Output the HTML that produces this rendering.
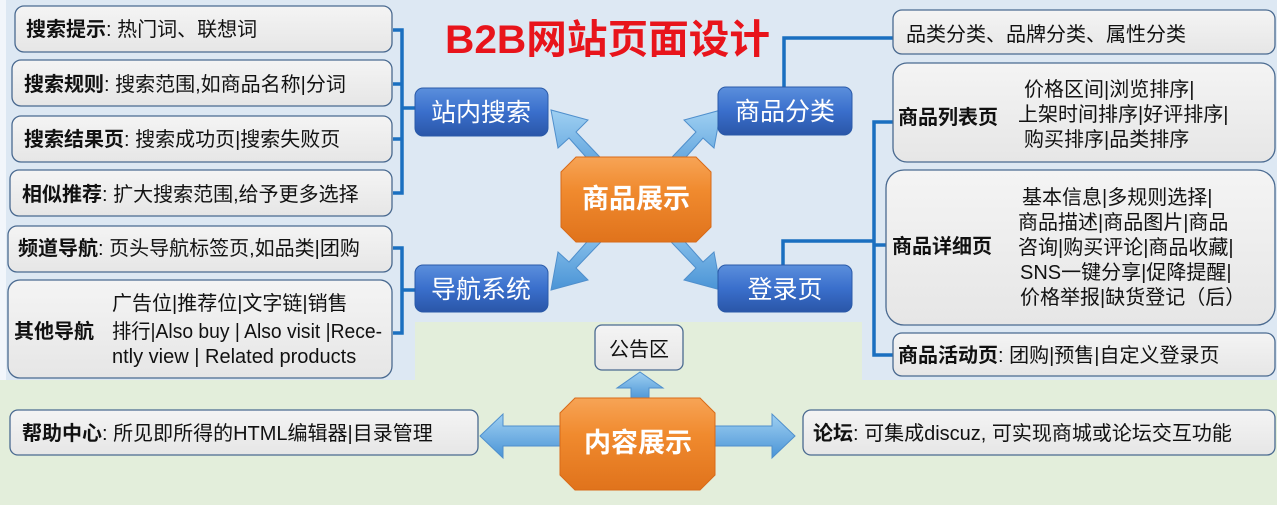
<!DOCTYPE html>
<html><head><meta charset="utf-8"><style>
body{margin:0;width:1277px;height:500px;overflow:hidden;background:#e3eedb;}
svg text{font-family:"Liberation Sans","Noto Sans CJK SC",sans-serif;}
</style></head><body>
<svg width="1277" height="500" viewBox="0 0 1277 500" xmlns="http://www.w3.org/2000/svg">
<defs>
<linearGradient id="bl" x1="0" y1="0" x2="0" y2="1"><stop offset="0" stop-color="#5b8fdc"/><stop offset="0.5" stop-color="#3a6fcc"/><stop offset="1" stop-color="#2a56a8"/></linearGradient>
<linearGradient id="or" x1="0" y1="0" x2="0" y2="1"><stop offset="0" stop-color="#f7a456"/><stop offset="0.4" stop-color="#f08a2e"/><stop offset="1" stop-color="#e0731c"/></linearGradient>
<linearGradient id="bx" x1="0" y1="0" x2="0" y2="1"><stop offset="0" stop-color="#f4f4f4"/><stop offset="1" stop-color="#e6e6e6"/></linearGradient>
<linearGradient id="ar" x1="0" y1="0" x2="0" y2="1"><stop offset="0" stop-color="#9fd0f2"/><stop offset="1" stop-color="#4a94d6"/></linearGradient>
</defs>
<rect width="1277" height="500" fill="#e3eedb"/>
<path d="M0 0H1277V380H862V322H415V380H0Z" fill="#dde8f3"/>
<rect x="0" y="0" width="6" height="380" fill="#f2f6fb"/>

<text x="445" y="53" font-size="40" font-weight="bold" fill="#e8141b" textLength="325" lengthAdjust="spacingAndGlyphs">B2B网站页面设计</text>

<g stroke="#1a6fc0" stroke-width="3.5" fill="none">
<path d="M393 30H402V193H393M393 84H402M393 139H402M402 108H415"/>
<path d="M393 248H402V333H393M402 290H415"/>
<path d="M784 88V38H893"/>
<path d="M893 122H874V355H893M874 241H783V265M874 245H886"/>
</g>
<g stroke="#1ba09a" stroke-width="3" fill="none">
<path d="M112 300H104V360H112"/>
<path d="M1030 82H1022V146H1030"/>
<path d="M1028 196H1002V300H1028"/>
</g>

<g fill="url(#bx)" stroke="#4a6a90" stroke-width="1.3">
<rect x="15" y="6" width="377" height="46" rx="9"/>
<rect x="12" y="60" width="380" height="46" rx="9"/>
<rect x="12" y="116" width="380" height="46" rx="9"/>
<rect x="10" y="170" width="382" height="46" rx="9"/>
<rect x="8" y="226" width="384" height="46" rx="9"/>
<rect x="8" y="280" width="384" height="98" rx="12"/>
<rect x="893" y="10" width="382" height="44" rx="9"/>
<rect x="893" y="63" width="382" height="99" rx="14"/>
<rect x="886" y="170" width="389" height="155" rx="18"/>
<rect x="893" y="333" width="382" height="43" rx="9"/>
<rect x="595" y="325" width="88" height="45" rx="7"/>
<rect x="10" y="410" width="468" height="45" rx="8"/>
<rect x="803" y="410" width="472" height="45" rx="8"/>
</g>
<g font-size="20" fill="#111">
<text x="26" y="36"><tspan font-weight="bold">搜索提示</tspan>: 热门词、联想词</text>
<text x="24" y="91"><tspan font-weight="bold">搜索规则</tspan>: 搜索范围,如商品名称|分词</text>
<text x="24" y="146"><tspan font-weight="bold">搜索结果页</tspan>: 搜索成功页|搜索失败页</text>
<text x="22" y="201"><tspan font-weight="bold">相似推荐</tspan>: 扩大搜索范围,给予更多选择</text>
<text x="18" y="255"><tspan font-weight="bold">频道导航</tspan>: 页头导航标签页,如品类|团购</text>
<text x="14" y="338" font-weight="bold">其他导航</text>
<text x="112" y="310">广告位|推荐位|文字链|销售</text>
<text x="112" y="338" textLength="270" lengthAdjust="spacingAndGlyphs">排行|Also buy | Also visit |Rece-</text>
<text x="112" y="363">ntly view | Related products</text>
<text x="906" y="41">品类分类、品牌分类、属性分类</text>
<text x="898" y="124" font-weight="bold">商品列表页</text>
<text x="1024" y="96">价格区间|浏览排序|</text>
<text x="1018" y="121">上架时间排序|好评排序|</text>
<text x="1024" y="146">购买排序|品类排序</text>
<text x="892" y="253" font-weight="bold">商品详细页</text>
<text x="1022" y="204">基本信息|多规则选择|</text>
<text x="1018" y="229">商品描述|商品图片|商品</text>
<text x="1018" y="254">咨询|购买评论|商品收藏|</text>
<text x="1020" y="279">SNS一键分享|促降提醒|</text>
<text x="1020" y="304">价格举报|缺货登记（后）</text>
<text x="898" y="362"><tspan font-weight="bold">商品活动页</tspan>: 团购|预售|自定义登录页</text>
<text x="609" y="356">公告区</text>
<text x="22" y="440"><tspan font-weight="bold">帮助中心</tspan>: 所见即所得的HTML编辑器|目录管理</text>
<text x="813" y="440"><tspan font-weight="bold">论坛</tspan>: 可集成discuz, 可实现商城或论坛交互功能</text>
</g>

<g fill="url(#ar)" stroke="#4f8fcc" stroke-width="1">
<path d="M618 176L576 132L588 120L551 110L558 148L569 138L610 184Z"/>
<path d="M654 176L696 132L684 120L721 110L714 148L703 138L662 184Z"/>
<path d="M618 224L576 268L588 280L551 290L558 252L569 262L610 216Z"/>
<path d="M654 224L696 268L684 280L721 290L714 252L703 262L662 216Z"/>
<path d="M631 400V388H617L640 372L663 388H649V400Z"/>
<path d="M560 426H503V414L480 436L503 458V446H560Z"/>
<path d="M715 426H772V414L795 436L772 458V446H715Z"/>
</g>

<g fill="url(#bl)" stroke="#2a5aa8">
<rect x="415" y="88" width="133" height="48" rx="8"/>
<rect x="718" y="87" width="134" height="48" rx="8"/>
<rect x="415" y="265" width="133" height="47" rx="8"/>
<rect x="718" y="265" width="134" height="47" rx="8"/>
</g>
<g font-size="25" fill="#fff" text-anchor="middle">
<text x="481" y="121">站内搜索</text>
<text x="785" y="120">商品分类</text>
<text x="481" y="298">导航系统</text>
<text x="785" y="298">登录页</text>
</g>
<path d="M576 157H696L711 172V227L696 242H576L561 227V172Z" fill="url(#or)" stroke="#d86a18"/>
<path d="M575 398H700L715 413V475L700 490H575L560 475V413Z" fill="url(#or)" stroke="#d86a18"/>
<g font-size="27" font-weight="bold" fill="#fff" text-anchor="middle">
<text x="636" y="208">商品展示</text>
<text x="638" y="452">内容展示</text>
</g>
</svg>
</body></html>
